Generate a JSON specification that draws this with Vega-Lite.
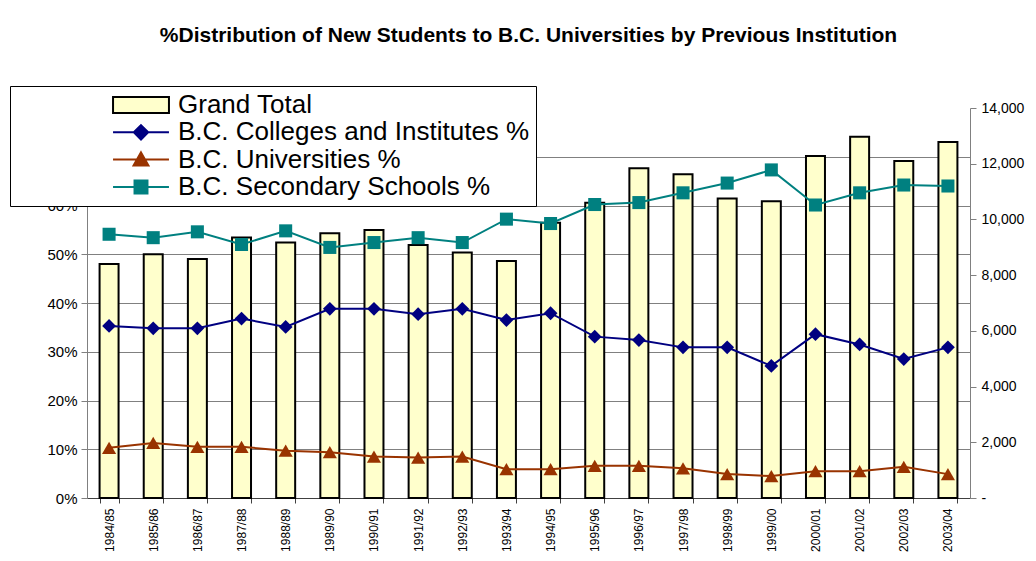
{
  "$schema": "https://vega.github.io/schema/vega-lite/v6.json",
  "autosize": {"type": "none"},
  "padding": {"left": 87, "top": 108, "right": 66, "bottom": 63},
  "width": 883,
  "height": 390,
  "background": "white",
  "config": {"view": {"stroke": null}, "font": "Liberation Sans"},
  "title": {
    "text": "%Distribution of New Students to B.C. Universities by Previous Institution",
    "font": "Liberation Sans",
    "fontSize": 21,
    "fontWeight": "bold",
    "color": "black",
    "anchor": "middle",
    "offset": 40
  },
  "datasets": {
    "totals": [
      {"year": "1984/85", "total": 8400},
      {"year": "1985/86", "total": 8750},
      {"year": "1986/87", "total": 8580},
      {"year": "1987/88", "total": 9350},
      {"year": "1988/89", "total": 9170},
      {"year": "1989/90", "total": 9500},
      {"year": "1990/91", "total": 9620},
      {"year": "1991/92", "total": 9080},
      {"year": "1992/93", "total": 8810},
      {"year": "1993/94", "total": 8510},
      {"year": "1994/95", "total": 9880},
      {"year": "1995/96", "total": 10600},
      {"year": "1996/97", "total": 11840},
      {"year": "1997/98", "total": 11620},
      {"year": "1998/99", "total": 10750},
      {"year": "1999/00", "total": 10650},
      {"year": "2000/01", "total": 12280},
      {"year": "2001/02", "total": 12970},
      {"year": "2002/03", "total": 12100},
      {"year": "2003/04", "total": 12780}
    ],
    "shares": [
      {"year": "1984/85", "series": "B.C. Colleges and Institutes %", "value": 0.353},
      {"year": "1985/86", "series": "B.C. Colleges and Institutes %", "value": 0.348},
      {"year": "1986/87", "series": "B.C. Colleges and Institutes %", "value": 0.348},
      {"year": "1987/88", "series": "B.C. Colleges and Institutes %", "value": 0.368},
      {"year": "1988/89", "series": "B.C. Colleges and Institutes %", "value": 0.351},
      {"year": "1989/90", "series": "B.C. Colleges and Institutes %", "value": 0.388},
      {"year": "1990/91", "series": "B.C. Colleges and Institutes %", "value": 0.388},
      {"year": "1991/92", "series": "B.C. Colleges and Institutes %", "value": 0.377},
      {"year": "1992/93", "series": "B.C. Colleges and Institutes %", "value": 0.388},
      {"year": "1993/94", "series": "B.C. Colleges and Institutes %", "value": 0.365},
      {"year": "1994/95", "series": "B.C. Colleges and Institutes %", "value": 0.379},
      {"year": "1995/96", "series": "B.C. Colleges and Institutes %", "value": 0.331},
      {"year": "1996/97", "series": "B.C. Colleges and Institutes %", "value": 0.324},
      {"year": "1997/98", "series": "B.C. Colleges and Institutes %", "value": 0.309},
      {"year": "1998/99", "series": "B.C. Colleges and Institutes %", "value": 0.309},
      {"year": "1999/00", "series": "B.C. Colleges and Institutes %", "value": 0.271},
      {"year": "2000/01", "series": "B.C. Colleges and Institutes %", "value": 0.336},
      {"year": "2001/02", "series": "B.C. Colleges and Institutes %", "value": 0.315},
      {"year": "2002/03", "series": "B.C. Colleges and Institutes %", "value": 0.285},
      {"year": "2003/04", "series": "B.C. Colleges and Institutes %", "value": 0.309},
      {"year": "1984/85", "series": "B.C. Universities %", "value": 0.103},
      {"year": "1985/86", "series": "B.C. Universities %", "value": 0.113},
      {"year": "1986/87", "series": "B.C. Universities %", "value": 0.105},
      {"year": "1987/88", "series": "B.C. Universities %", "value": 0.105},
      {"year": "1988/89", "series": "B.C. Universities %", "value": 0.097},
      {"year": "1989/90", "series": "B.C. Universities %", "value": 0.094},
      {"year": "1990/91", "series": "B.C. Universities %", "value": 0.085},
      {"year": "1991/92", "series": "B.C. Universities %", "value": 0.083},
      {"year": "1992/93", "series": "B.C. Universities %", "value": 0.085},
      {"year": "1993/94", "series": "B.C. Universities %", "value": 0.059},
      {"year": "1994/95", "series": "B.C. Universities %", "value": 0.059},
      {"year": "1995/96", "series": "B.C. Universities %", "value": 0.066},
      {"year": "1996/97", "series": "B.C. Universities %", "value": 0.066},
      {"year": "1997/98", "series": "B.C. Universities %", "value": 0.061},
      {"year": "1998/99", "series": "B.C. Universities %", "value": 0.049},
      {"year": "1999/00", "series": "B.C. Universities %", "value": 0.045},
      {"year": "2000/01", "series": "B.C. Universities %", "value": 0.055},
      {"year": "2001/02", "series": "B.C. Universities %", "value": 0.055},
      {"year": "2002/03", "series": "B.C. Universities %", "value": 0.064},
      {"year": "2003/04", "series": "B.C. Universities %", "value": 0.049},
      {"year": "1984/85", "series": "B.C. Secondary Schools %", "value": 0.541},
      {"year": "1985/86", "series": "B.C. Secondary Schools %", "value": 0.534},
      {"year": "1986/87", "series": "B.C. Secondary Schools %", "value": 0.546},
      {"year": "1987/88", "series": "B.C. Secondary Schools %", "value": 0.520},
      {"year": "1988/89", "series": "B.C. Secondary Schools %", "value": 0.548},
      {"year": "1989/90", "series": "B.C. Secondary Schools %", "value": 0.514},
      {"year": "1990/91", "series": "B.C. Secondary Schools %", "value": 0.524},
      {"year": "1991/92", "series": "B.C. Secondary Schools %", "value": 0.534},
      {"year": "1992/93", "series": "B.C. Secondary Schools %", "value": 0.524},
      {"year": "1993/94", "series": "B.C. Secondary Schools %", "value": 0.572},
      {"year": "1994/95", "series": "B.C. Secondary Schools %", "value": 0.563},
      {"year": "1995/96", "series": "B.C. Secondary Schools %", "value": 0.602},
      {"year": "1996/97", "series": "B.C. Secondary Schools %", "value": 0.606},
      {"year": "1997/98", "series": "B.C. Secondary Schools %", "value": 0.626},
      {"year": "1998/99", "series": "B.C. Secondary Schools %", "value": 0.646},
      {"year": "1999/00", "series": "B.C. Secondary Schools %", "value": 0.673},
      {"year": "2000/01", "series": "B.C. Secondary Schools %", "value": 0.601},
      {"year": "2001/02", "series": "B.C. Secondary Schools %", "value": 0.626},
      {"year": "2002/03", "series": "B.C. Secondary Schools %", "value": 0.642},
      {"year": "2003/04", "series": "B.C. Secondary Schools %", "value": 0.640}
    ]
  },
  "layer": [
    {
      "data": {"name": "totals"},
      "mark": {"type": "bar", "fill": "#FFFFCC", "stroke": "black", "strokeWidth": 2},
      "encoding": {
        "x": {
          "field": "year", "type": "ordinal", "sort": null,
          "scale": {"paddingInner": 0.57, "paddingOuter": 0.285},
          "axis": {
            "title": null, "tickBand": "extent", "labelAngle": -90, "labelAlign": "right", "labelBaseline": "middle",
            "labelFont": "Liberation Sans", "labelFontSize": 12, "labelColor": "black", "labelPadding": 5,
            "tickSize": 5, "tickColor": "#404040", "domainColor": "#404040", "grid": false
          }
        },
        "y": {
          "field": "total", "type": "quantitative",
          "scale": {"domain": [0, 14000], "nice": false},
          "axis": {
            "orient": "right", "title": null, "grid": false,
            "values": [0, 2000, 4000, 6000, 8000, 10000, 12000, 14000],
            "labelExpr": "datum.value == 0 ? '-' : format(datum.value, ',')",
            "labelFont": "Liberation Sans", "labelFontSize": 14, "labelColor": "black", "labelPadding": 5,
            "tickSize": 6, "tickColor": "#808080", "domainColor": "#808080"
          }
        }
      }
    },
    {
      "data": {"name": "shares"},
      "encoding": {
        "x": {"field": "year", "type": "ordinal", "sort": null},
        "y": {
          "field": "value", "type": "quantitative",
          "scale": {"domain": [0, 0.8], "nice": false},
          "axis": {
            "orient": "left", "title": null, "format": ".0%",
            "values": [0, 0.1, 0.2, 0.3, 0.4, 0.5, 0.6, 0.7],
            "grid": true, "gridColor": "#808080", "gridWidth": 1,
            "labelFont": "Liberation Sans", "labelFontSize": 15, "labelColor": "black", "labelPadding": 4,
            "tickSize": 6, "tickColor": "#808080", "domainColor": "#808080"
          }
        }
      },
      "layer": [
        {
          "mark": {"type": "line", "strokeWidth": 2},
          "encoding": {
            "color": {
              "field": "series", "type": "nominal",
              "scale": {"domain": ["B.C. Colleges and Institutes %", "B.C. Universities %", "B.C. Secondary Schools %"], "range": ["#000080", "#993300", "#008080"]},
              "legend": null
            },
            "detail": {"field": "series"}
          }
        },
        {
          "transform": [{"filter": "datum.series == 'B.C. Colleges and Institutes %'"}],
          "mark": {"type": "point", "shape": "diamond", "filled": true, "opacity": 1, "size": 190, "color": "#000080"}
        },
        {
          "transform": [{"filter": "datum.series == 'B.C. Universities %'"}],
          "mark": {"type": "point", "shape": "triangle-up", "filled": true, "opacity": 1, "size": 200, "color": "#993300"}
        },
        {
          "transform": [{"filter": "datum.series == 'B.C. Secondary Schools %'"}],
          "mark": {"type": "point", "shape": "square", "filled": true, "opacity": 1, "size": 170, "color": "#008080"}
        },
        {
          "transform": [{"filter": "false"}],
          "mark": {"type": "point", "filled": true},
          "encoding": {
            "fill": {
              "field": "series", "type": "nominal",
              "scale": {"domain": ["Grand Total", "B.C. Colleges and Institutes %", "B.C. Universities %", "B.C. Secondary Schools %"], "range": ["#FFFFCC", "#000080", "#993300", "#008080"]},
              "legend": {
                "orient": "none", "legendX": -77, "legendY": -22, "title": null,
                "fillColor": "white", "strokeColor": "black", "padding": 6,
                "symbolOffset": 112, "symbolSize": 576, "symbolStrokeWidth": 2, "symbolOpacity": 1,
                "labelFont": "Liberation Sans", "labelFontSize": 26, "labelColor": "black",
                "labelOffset": 24, "labelLimit": 1000, "rowPadding": 1.3
              }
            },
            "stroke": {
              "field": "series", "type": "nominal",
              "scale": {"domain": ["Grand Total", "B.C. Colleges and Institutes %", "B.C. Universities %", "B.C. Secondary Schools %"], "range": ["black", "#000080", "#993300", "#008080"]},
              "legend": {
                "orient": "none", "legendX": -77, "legendY": -22, "title": null,
                "fillColor": "white", "strokeColor": "black", "padding": 6,
                "symbolOffset": 112, "symbolSize": 576, "symbolStrokeWidth": 2, "symbolOpacity": 1,
                "labelFont": "Liberation Sans", "labelFontSize": 26, "labelColor": "black",
                "labelOffset": 24, "labelLimit": 1000, "rowPadding": 1.3
              }
            },
            "shape": {
              "field": "series", "type": "nominal",
              "scale": {"domain": ["Grand Total", "B.C. Colleges and Institutes %", "B.C. Universities %", "B.C. Secondary Schools %"], "range": [
                "M-2.33,-0.67H2.33V0.67H-2.33Z",
                "M-2.33,0H2.33M0,-0.6L0.6,0L0,0.6L-0.6,0Z",
                "M-2.33,0H2.33M0,-0.6L0.62,0.5L-0.62,0.5Z",
                "M-2.33,0H2.33M-0.54,-0.54H0.54V0.54H-0.54Z"
              ]},
              "legend": {
                "orient": "none", "legendX": -77, "legendY": -22, "title": null,
                "fillColor": "white", "strokeColor": "black", "padding": 6,
                "symbolOffset": 112, "symbolSize": 576, "symbolStrokeWidth": 2, "symbolOpacity": 1,
                "labelFont": "Liberation Sans", "labelFontSize": 26, "labelColor": "black",
                "labelOffset": 24, "labelLimit": 1000, "rowPadding": 1.3
              }
            }
          }
        }
      ]
    }
  ],
  "resolve": {"scale": {"y": "independent"}}
}
